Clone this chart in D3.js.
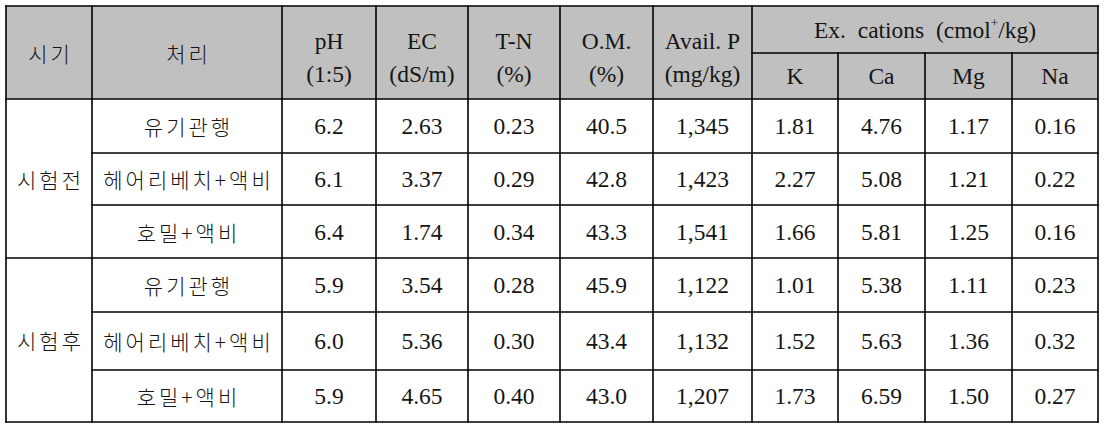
<!DOCTYPE html>
<html><head><meta charset="utf-8">
<script src="https://cdn.jsdelivr.net/npm/d3@7"></script>
<style>body{margin:0;background:#fff}svg{display:block}</style>
</head><body><svg id="c" width="1109" height="425"></svg>
<script>
const periods = ["시험전", "시험후"];
const treatments = ["유기관행", "헤어리베치+액비", "호밀+액비"];
const headTop = [["시기"], ["처리"], ["pH", "(1:5)"], ["EC", "(dS/m)"], ["T-N", "(%)"], ["O.M.", "(%)"], ["Avail. P", "(mg/kg)"]];
const cationGroup = "Ex.  cations  (cmol";
const cations = ["K", "Ca", "Mg", "Na"];
const pH   = ["6.2", "6.1", "6.4", "5.9", "6.0", "5.9"];
const EC   = ["2.63", "3.37", "1.74", "3.54", "5.36", "4.65"];
const TN   = ["0.23", "0.29", "0.34", "0.28", "0.30", "0.40"];
const OM   = ["40.5", "42.8", "43.3", "45.9", "43.4", "43.0"];
const AvP  = ["1,345", "1,423", "1,541", "1,122", "1,132", "1,207"];
const K    = ["1.81", "2.27", "1.66", "1.01", "1.52", "1.73"];
const Ca   = ["4.76", "5.08", "5.81", "5.38", "5.63", "6.59"];
const Mg   = ["1.17", "1.21", "1.25", "1.11", "1.36", "1.50"];
const Na   = ["0.16", "0.22", "0.16", "0.23", "0.32", "0.27"];

// layout
const colW = [86, 190, 94, 92, 92, 93, 99, 86, 87, 87, 86];
const rowH = [47, 46, 54, 52, 53, 54, 58, 52];
const x0 = 6, y0 = 6;
const colEdges = [x0]; colW.forEach(w => colEdges.push(colEdges[colEdges.length-1] + w));
const rowEdges = [y0]; rowH.forEach(h => rowEdges.push(rowEdges[rowEdges.length-1] + h));
const X = d3.scaleLinear().domain(d3.range(colEdges.length)).range(colEdges);
const Y = d3.scaleLinear().domain(d3.range(rowEdges.length)).range(rowEdges);

const svg = d3.select("#c");
const serif = "'Liberation Serif', 'DejaVu Serif', serif";
const kfont = "'Noto Sans CJK KR', sans-serif";
const gray = "#c0c0c0";
const FS = 23.5, KS = 21, KL = 3;

svg.append("rect").attr("x", X(0)).attr("y", Y(0)).attr("width", X(11)-X(0)).attr("height", Y(2)-Y(0)).attr("fill", gray);

function txt(x, y, s, font, size, ls, weight) {
  return svg.append("text").attr("x", x).attr("y", y).attr("text-anchor", "middle")
    .attr("dominant-baseline", "central").attr("font-family", font).attr("font-size", size)
    .attr("font-weight", weight || 400)
    .attr("letter-spacing", ls || 0).attr("fill", "#151515").text(s);
}
function ktxt(x, y, s) { return txt(x + KL / 2, y, s, kfont, KS, KL, 300); }

headTop.forEach((lines, i) => {
  const cx = (X(i) + X(i+1)) / 2;
  if (i < 2) {
    ktxt(cx, (Y(0)+Y(2))/2, lines[0]);
  } else {
    txt(cx, Y(0) + 35, lines[0], serif, FS);
    txt(cx, Y(0) + 68, lines[1], serif, FS);
  }
});
const gt = txt((X(7)+X(11))/2, (Y(0)+Y(1))/2, null, serif, FS);
gt.attr("xml:space", "preserve").style("white-space", "pre");
gt.append("tspan").text(cationGroup);
gt.append("tspan").attr("font-size", 13).attr("dy", -8).text("+");
gt.append("tspan").attr("dy", 8).text("/kg)");
cations.forEach((c, j) => txt((X(7+j)+X(8+j))/2, (Y(1)+Y(2))/2, c, serif, FS));

const cols = [pH, EC, TN, OM, AvP, K, Ca, Mg, Na];
for (let r = 0; r < 6; r++) {
  const cy = (Y(2+r) + Y(3+r)) / 2;
  ktxt((X(1)+X(2))/2, cy, treatments[r % 3]);
  cols.forEach((arr, c) => txt((X(2+c)+X(3+c))/2, cy, arr[r], serif, FS));
}
periods.forEach((p, i) => {
  ktxt((X(0)+X(1))/2, (Y(2+3*i) + Y(5+3*i))/2, p);
});

const lines = [];
lines.push([X(0), Y(0), X(11), Y(0)]);
lines.push([X(7), Y(1), X(11), Y(1)]);
lines.push([X(0), Y(2), X(11), Y(2)]);
for (let r = 3; r <= 7; r++) lines.push([r === 5 ? X(0) : X(1), Y(r), X(11), Y(r)]);
lines.push([X(0), Y(8), X(11), Y(8)]);
for (let c = 0; c <= 11; c++) {
  if (c >= 8 && c <= 10) lines.push([X(c), Y(1), X(c), Y(8)]);
  else lines.push([X(c), Y(0), X(c), Y(8)]);
}
svg.append("g").selectAll("line").data(lines).join("line")
  .attr("x1", d => d[0]).attr("y1", d => d[1]).attr("x2", d => d[2]).attr("y2", d => d[3])
  .attr("stroke", "#000").attr("stroke-width", 1.6).attr("stroke-linecap", "square");
</script></body></html>
